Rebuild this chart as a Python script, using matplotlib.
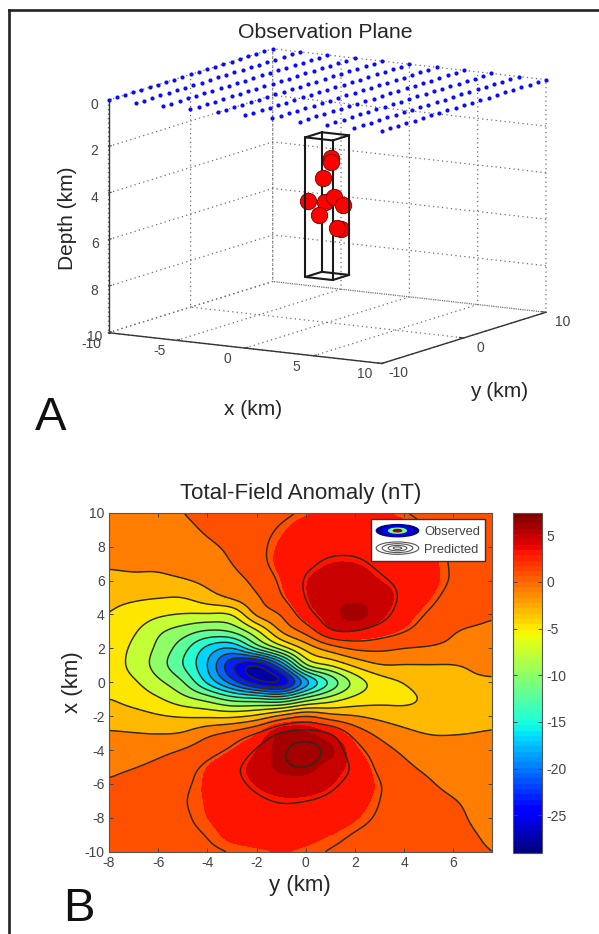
import numpy as np
import matplotlib
matplotlib.use('Agg')
import matplotlib.pyplot as plt
from matplotlib.colors import Normalize
from matplotlib.cm import ScalarMappable
from matplotlib.lines import Line2D
from matplotlib.patches import Ellipse, Patch
from matplotlib.legend_handler import HandlerBase
from mpl_toolkits.mplot3d import proj3d

plt.rcParams['font.family'] = ['Liberation Sans', 'DejaVu Sans']
plt.rcParams['axes.unicode_minus'] = False

# ---------- Panel A data ----------
obs_x = [-10, -8, -6, -4, -2, 0, 2, 4, 6, 8, 10]
obs_y = [-10, -9, -8, -7, -6, -5, -4, -3, -2, -1, 0, 1, 2, 3, 4, 5, 6, 7, 8, 9, 10]
obs_depth = 0
box_x = [-1, 1]
box_y = [-1, 1]
box_z = [2, 8]
source_x = [0.27, 0.27, -0.29, -0.8, -0.15, -0.59, 0.46, 0.8, 0.9, 0.85]
source_y = [0.0, 0.0, 0.0, -1.0, 0.0, 0.0, 0.0, 0.6, 0.2, -0.2]
source_z = [2.93, 3.10, 3.80, 4.74, 4.83, 5.41, 4.59, 4.97, 5.95, 5.84]
a_xticks = [-10, -5, 0, 5, 10]
a_yticks = [-10, 0, 10]
a_zticks = [0, 2, 4, 6, 8, 10]

# ---------- Panel B data ----------
field_h = [-8, -7, -6, -5, -4, -3, -2, -1, 0, 1, 2, 3, 4, 5, 6, 7, 7.55]
field_v = [10, 9, 8, 7, 6, 5, 4, 3, 2, 1, 0, -1, -2, -3, -4, -5, -6, -7, -8, -9, -10]
predicted = [
    [-2.2, -2.1, -1.8, -1.1, -0.6, -0.2, 0.3, 0.7, 1.3, 1.7, 1.9, 1.6, 1.1, 0.7, 0.4, 0.2, 0.1],
    [-2.4, -2.3, -2.0, -1.5, -0.9, -0.3, 0.5, 1.3, 2.2, 2.7, 3.0, 2.8, 2.0, 1.0, 0.5, 0.2, 0.1],
    [-2.6, -2.5, -2.2, -1.9, -1.4, -0.7, 0.6, 1.7, 2.5, 2.9, 3.0, 2.8, 2.6, 1.7, 0.8, 0.4, 0.2],
    [-3.1, -3.0, -3.0, -2.6, -2.0, -1.1, 0.4, 1.9, 2.9, 3.6, 3.6, 3.0, 2.6, 1.9, 0.9, 0.5, 0.3],
    [-3.8, -3.7, -3.7, -3.45, -2.8, -1.9, -0.5, 1.5, 3.5, 4.3, 4.6, 3.6, 2.8, 2.0, 0.9, 0.5, 0.3],
    [-5.0, -5.2, -5.4, -5.5, -4.2, -2.9, -1.4, 0.9, 3.4, 4.9, 5.0, 4.6, 2.8, 1.6, 0.5, 0.1, 0.0],
    [-5.5, -6.3, -7.3, -7.8, -7.9, -7.7, -2.8, -1.0, 2.4, 4.5, 5.2, 4.2, 2.2, 0.9, -0.1, -0.6, -0.9],
    [-5.9, -7.4, -9.5, -11.0, -12.4, -11.8, -8.2, -3.1, -0.4, 3.1, 3.3, 2.3, 1.2, 0.1, -1.0, -1.4, -1.5],
    [-6.5, -8.1, -10.4, -13.4, -17.2, -18.9, -13.6, -8.9, -4.8, -2.2, -0.7, -0.6, -1.1, -1.3, -1.6, -1.9, -2.0],
    [-6.9, -8.2, -11.0, -14.3, -18.7, -25.0, -27.8, -21.0, -9.9, -7.5, -5.0, -3.4, -3.4, -3.4, -3.4, -3.0, -2.8],
    [-6.9, -7.4, -9.4, -11.9, -17.0, -22.0, -26.8, -27.8, -20.0, -14.0, -9.2, -6.6, -5.4, -4.2, -3.6, -3.5, -3.5],
    [-5.4, -6.3, -7.4, -9.1, -10.6, -12.9, -13.5, -14.3, -11.0, -8.8, -7.0, -6.2, -6.0, -5.1, -4.2, -4.0, -3.9],
    [-4.4, -4.7, -5.3, -5.7, -5.9, -6.0, -5.0, -2.7, -1.0, -2.5, -3.2, -3.9, -4.4, -4.6, -4.6, -4.6, -4.5],
    [-3.1, -3.25, -3.4, -3.2, -1.7, -0.6, 1.1, 3.5, 4.1, 3.3, 0.2, -1.7, -2.8, -3.4, -3.4, -3.2, -3.0],
    [-2.4, -2.1, -1.7, -1.0, 0.2, 1.5, 3.5, 5.1, 6.3, 4.7, 2.0, -0.2, -1.5, -2.3, -2.6, -2.6, -2.5],
    [-1.6, -1.2, -0.6, 0.3, 1.5, 2.8, 4.2, 5.2, 5.5, 4.5, 2.9, 0.6, -0.7, -1.5, -2.0, -2.1, -2.1],
    [-0.9, -0.3, 0.3, 0.8, 1.7, 2.7, 3.7, 4.4, 4.6, 3.7, 2.6, 1.2, -0.1, -0.9, -1.6, -1.9, -2.0],
    [-0.4, 0.1, 0.5, 1.0, 1.6, 2.2, 3.0, 3.4, 3.3, 2.9, 2.1, 1.1, 0.2, -0.4, -1.0, -1.6, -1.9],
    [-0.1, 0.2, 0.5, 0.9, 1.5, 2.1, 2.6, 2.8, 2.7, 2.3, 1.6, 0.9, 0.3, -0.2, -0.7, -1.4, -1.7],
    [0.1, 0.3, 0.5, 0.8, 1.15, 1.8, 2.1, 2.2, 1.9, 1.5, 1.0, 0.6, 0.2, -0.2, -0.6, -1.1, -1.4],
    [0.2, 0.3, 0.5, 0.7, 0.9, 1.1, 1.3, 1.5, 1.3, 1.0, 0.7, 0.4, 0.1, -0.2, -0.5, -0.9, -1.1],
]
# nodes where the observed field stands above the predicted one (v, h, value)
observed_v = [4, -3, -3, -4, -4, -4, -5, -5]
observed_h = [2, -1, 0, -1, 0, 1, -1, 0]
observed_value = [6.6, 5.9, 6.0, 6.6, 7.2, 6.2, 6.2, 6.4]
contour_levels = [-27.5, -25.3, -23.1, -20.9, -18.7, -16.5, -14.3, -12.1, -9.9, -7.7,
                  -5.5, -3.3, -1.1, 1.1, 3.3, 5.5]
fill_levels = [-35.0, -27.5, -25.3, -23.1, -20.9, -18.7, -16.5, -14.3, -12.1, -9.9, -7.7,
               -5.5, -3.3, -1.1, 1.5, 3.6, 5.6, 12.0]
band_values = [-27.5, -25.3, -23.1, -20.9, -18.7, -16.5, -14.3, -12.1, -9.9, -7.7,
               -5.0, -3.3, -1.1, 1.1, 3.1, 5.0, 6.0]
clim = (-29.0, 7.4)
b_xticks = [-8, -6, -4, -2, 0, 2, 4, 6]
b_yticks = [-10, -8, -6, -4, -2, 0, 2, 4, 6, 8, 10]
cb_ticks = [-25, -20, -15, -10, -5, 0, 5]

W, H = 599, 934
fig = plt.figure(figsize=(W / 100, H / 100), dpi=100)
TXT = '#262626'
TICK = '#444444'


def rect(left, top, right, bottom):
    return [left / W, 1 - bottom / H, (right - left) / W, (bottom - top) / H]


# ---------- outer frame ----------
for xs, ys in (([8.5, 8.5], [9.5, 934]), ([8.5, 599], [9.5, 9.5])):
    fig.add_artist(Line2D([v / W for v in xs], [1 - v / H for v in ys],
                          color='#222222', lw=1.9, transform=fig.transFigure))

# ---------- Panel A ----------
grid_rc = {'grid.color': '#707070', 'grid.linestyle': (0, (1, 2.6)), 'grid.linewidth': 0.9}
with plt.rc_context(grid_rc):
    ax = fig.add_axes(rect(20, 20, 580, 400), projection='3d', proj_type='ortho',
                      computed_zorder=False)
ax.patch.set_visible(False)
ax.set_xlim(-10, 10, view_margin=0)
ax.set_ylim(-10, 10, view_margin=0)
ax.set_zlim(10, 0, view_margin=0)
ax.view_init(elev=10.8, azim=-59)
ax.set_xticks(a_xticks)
ax.set_yticks(a_yticks)
ax.set_zticks(a_zticks)
ax.zaxis.set_ticks_position('lower')
ax.zaxis.set_label_position('lower')
for axis in (ax.xaxis, ax.yaxis, ax.zaxis):
    axis.set_pane_color((1, 1, 1, 0))
    axis.pane.set_edgecolor('#707070')
    axis.pane.set_linestyle((0, (1, 2.6)))
    axis.pane.set_linewidth(0.9)
    axis.line.set_color('#333333')
    axis.line.set_linewidth(1.0)
    axis._axinfo['tick'].update({'inward_factor': 0.0, 'outward_factor': 0.2,
                                 'linewidth': {True: 0.8, False: 0.5}})
    axis.set_tick_params(labelsize=10, labelcolor=TICK, colors=TICK, pad=1)
ax.zaxis.set_tick_params(pad=-3.5)
ax.zaxis.set_rotate_label(False)
ax.xaxis.set_rotate_label(False)
ax.yaxis.set_rotate_label(False)
ax.set_xlabel('x (km)', fontsize=15, color=TXT, labelpad=8)
ax.set_ylabel('y (km)', fontsize=15, color=TXT, labelpad=8)
ax.set_zlabel('Depth (km)', fontsize=15, color=TXT, rotation=90, labelpad=8)

gx, gy = np.meshgrid(obs_x, obs_y)
ax.scatter(gx.ravel(), gy.ravel(), np.full(gx.size, obs_depth), s=9, c='#0a0aff',
           marker='o', linewidths=0, depthshade=False, zorder=5, clip_on=False)


def box_edge(x, y, z, zorder):
    ax.plot(x, y, z, color='#1a1a1a', lw=1.5, zorder=zorder, solid_capstyle='round',
            clip_on=False)


xl, xh = box_x
yl, yh = box_y
for z in box_z:
    box_edge([xl, xh], [yl, yl], [z, z], 3)
    box_edge([xh, xh], [yl, yh], [z, z], 3)
    box_edge([xh, xl], [yh, yh], [z, z], 3)
    box_edge([xl, xl], [yh, yl], [z, z], 3)
box_edge([xl, xl], [yh, yh], box_z, 3)
box_edge([xh, xh], [yl, yl], box_z, 3)
for i in range(len(source_x)):
    ax.scatter([source_x[i]], [source_y[i]], [source_z[i]], s=140, c='#ff0000',
               edgecolors='#660000', linewidths=0.6, depthshade=False, zorder=6 + i,
               clip_on=False)
box_edge([xl, xl], [yl, yl], box_z, 20)
box_edge([xh, xh], [yh, yh], box_z, 20)


def to_px(x, y, z):
    X, Y, _ = proj3d.proj_transform(x, y, z, ax.get_proj())
    return ax.transData.transform((X, Y))


ax.set_box_aspect((319, 319, 237), zoom=1)
ax.apply_aspect()
span = to_px(10, 10, 0)[0] - to_px(-10, -10, 0)[0]
ax.set_box_aspect((319, 319, 237), zoom=437.5 / span)
ax.apply_aspect()
p = to_px(-10, -10, 10)
dx, dy = 108.5 - p[0], (H - 332.7) - p[1]
pos = ax.get_position(original=True)
ax.set_position([pos.x0 + dx / W, pos.y0 + dy / H, pos.width, pos.height])


def nudge(text, ox, oy):
    """Shift an automatically placed 3D axis text by a few pixels at draw time."""
    place = text.set_position

    def shifted(xy):
        q = ax.transData.transform(xy) + (ox, oy)
        place(ax.transData.inverted().transform(q))

    text.set_position = shifted


nudge(ax.xaxis.label, 41, -4)
nudge(ax.yaxis.label, -20, 0)
nudge(ax.zaxis.label, 48, 2)
for tick in ax.xaxis.get_major_ticks():
    nudge(tick.label1, -7, 14)
for tick in ax.yaxis.get_major_ticks():
    nudge(tick.label1, -1, 14)
for tick in ax.zaxis.get_major_ticks():
    nudge(tick.label1, 0, 3)

fig.text(325 / W, 1 - 32 / H, 'Observation Plane', fontsize=15.3, color=TXT,
         ha='center', va='center')
fig.text(35 / W, 1 - 430 / H, 'A', fontsize=34, color='#111111', ha='left', va='baseline')
fig.text(63 / W, 1 - 921 / H, 'B', fontsize=34, color='#111111', ha='left', va='baseline')


# ---------- Panel B ----------
def smooth_resample(values, coords, new, axis):
    """Piecewise cubic Hermite resampling along one axis, only to draw smooth outlines."""
    v = np.moveaxis(values, axis, 0)
    c = np.asarray(coords, float)
    m = np.gradient(v, c, axis=0)
    i = np.clip(np.searchsorted(c, new) - 1, 0, len(c) - 2)
    d = c[i + 1] - c[i]
    t = ((new - c[i]) / d)
    shape = (-1,) + (1,) * (v.ndim - 1)
    t = t.reshape(shape)
    d = d.reshape(shape)
    out = ((2 * t**3 - 3 * t**2 + 1) * v[i] + (t**3 - 2 * t**2 + t) * d * m[i]
           + (-2 * t**3 + 3 * t**2) * v[i + 1] + (t**3 - t**2) * d * m[i + 1])
    return np.moveaxis(out, 0, axis)


def soften(a, samples):
    """Light Gaussian softening of the drawn surface to remove reading noise."""
    r = int(3 * samples)
    k = np.exp(-0.5 * (np.arange(-r, r + 1) / samples) ** 2)
    k /= k.sum()
    for axis in (0, 1):
        pad = [(0, 0), (0, 0)]
        pad[axis] = (r, r)
        p_ = np.pad(a, pad, mode='edge')
        a = np.apply_along_axis(lambda s: np.convolve(s, k, mode='valid'), axis, p_)
    return a


Z = np.array(predicted, dtype=float)
Zobs = Z.copy()
for v_i, h_i, val in zip(observed_v, observed_h, observed_value):
    Zobs[field_v.index(v_i), field_h.index(h_i)] = val
asc_v = np.array(field_v[::-1], float)
fine_h = np.linspace(field_h[0], field_h[-1], 156)
fine_v = np.linspace(-10, 10, 201)
Zf = soften(smooth_resample(smooth_resample(Z[::-1], asc_v, fine_v, 0), field_h, fine_h, 1), 2)
Zof = soften(smooth_resample(smooth_resample(Zobs[::-1], asc_v, fine_v, 0), field_h, fine_h, 1), 1.5)

norm = Normalize(*clim)
jet = plt.get_cmap('jet', 64)
band_colors = [jet(norm(v)) for v in band_values]

axb = fig.add_axes(rect(109, 512.7, 491.5, 851.7))
axb.contourf(fine_h, fine_v, Zof, levels=fill_levels, colors=band_colors)
axb.contour(fine_h, fine_v, Zf, levels=contour_levels, colors='#2b2b1a', linewidths=1.05,
            negative_linestyles='solid')
axb.set_xlim(-8, 7.55)
axb.set_ylim(-10, 10)
axb.set_xticks(b_xticks)
axb.set_yticks(b_yticks)
axb.tick_params(direction='in', length=3, width=0.7, top=True, right=True,
                labelsize=10, colors=TICK, pad=3)
for s in axb.spines.values():
    s.set_color('#555555')
    s.set_linewidth(0.8)
axb.set_title('Total-Field Anomaly (nT)', fontsize=16, color=TXT, pad=10)
axb.set_xlabel('y (km)', fontsize=16, color=TXT, labelpad=4)
axb.set_ylabel('x (km)', fontsize=16, color=TXT, labelpad=1)


class NestedEllipses(HandlerBase):
    def __init__(self, scales, facecolors=None, edgecolor=None):
        super().__init__()
        self.scales, self.facecolors, self.edgecolor = scales, facecolors, edgecolor

    def create_artists(self, legend, orig_handle, xdescent, ydescent, width, height,
                       fontsize, trans):
        out = []
        cx, cy = width / 2 - xdescent, height / 2 - ydescent
        for i, f in enumerate(self.scales):
            fc = self.facecolors[i] if self.facecolors else 'none'
            ec = self.edgecolor if self.edgecolor else fc
            out.append(Ellipse((cx, cy), width * f, height * f, facecolor=fc, edgecolor=ec,
                               linewidth=0.8, transform=trans))
        return out


h_obs = Patch(label='Observed')
h_pre = Patch(label='Predicted')
leg = axb.legend(handles=[h_obs, h_pre], loc='upper right',
                 bbox_to_anchor=((485 - 109) / 382.5, (851.7 - 519.3) / 339),
                 borderaxespad=0, fontsize=9.3, labelcolor=TICK, fancybox=False,
                 framealpha=1, edgecolor='#333333', handlelength=3.3, handleheight=1.1,
                 handletextpad=0.4, labelspacing=0.3, borderpad=0.4,
                 handler_map={
                     h_obs: NestedEllipses([1.0, 0.72, 0.42, 0.2],
                                           ['#00008f', '#0000f0', '#7dff82', '#a00000']),
                     h_pre: NestedEllipses([1.0, 0.72, 0.44, 0.2], edgecolor='#555555'),
                 })
leg.get_frame().set_linewidth(1.0)

cax = fig.add_axes(rect(513, 512.7, 542, 852.7))
cb = fig.colorbar(ScalarMappable(norm=norm, cmap=jet), cax=cax, ticks=cb_ticks)
cb.ax.tick_params(direction='in', length=3, width=0.7, left=True, right=True,
                  labelsize=10, colors=TICK, pad=3)
cb.outline.set_edgecolor('#555555')
cb.outline.set_linewidth(0.8)

fig.savefig('out.png', dpi=100)
